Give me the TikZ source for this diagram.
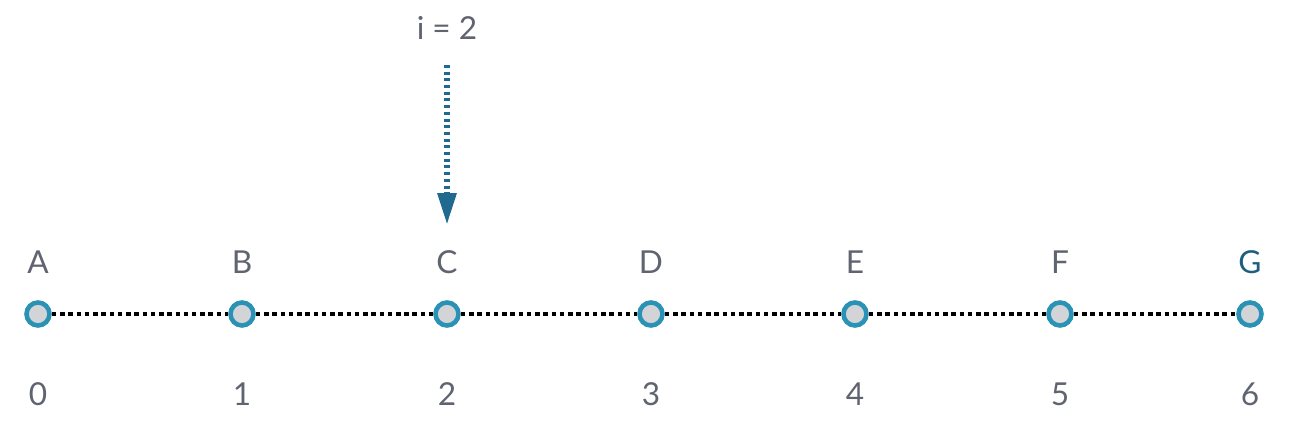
\documentclass[tikz,border=0pt]{standalone}
\usepackage{fontspec}
\setmainfont{Lato}
\usetikzlibrary{arrows.meta,positioning}
\definecolor{ringblue}{HTML}{2A93B5}
\definecolor{dotgray}{HTML}{D3D4D8}
\definecolor{ptrblue}{HTML}{1F6A8E}
\definecolor{txtgray}{HTML}{5F6470}
\definecolor{lastblue}{HTML}{1F5F7E}
\tikzstyle{elem}=[circle,draw=ringblue,fill=dotgray,line width=2.6pt,minimum size=0.46cm,inner sep=0]
\tikzstyle{lbl}=[text=txtgray,font=\fontsize{18}{21}\selectfont,inner sep=0]
\tikzstyle{link}=[black,line width=2.2pt,dash pattern=on 0.09cm off 0.075cm]
\tikzstyle{ptr}=[ptrblue,line width=0.12cm,dash pattern=on 0.06cm off 0.074cm,
                 -{Triangle[width=0.36cm,length=0.64cm,sep=0pt]}]

\begin{document}
\begin{tikzpicture}[x=0.02cm,y=-0.02cm]
\useasboundingbox (0,0) rectangle (1295,442);
\foreach \x/\l/\n/\c in {38/A/0/txtgray,242/B/1/txtgray,447/C/2/txtgray,651/D/3/txtgray,
                         855/E/4/txtgray,1060/F/5/txtgray,1250/G/6/lastblue}{
\node[elem] (e\n) at (\x,314) {};
\node[lbl,text=\c] (l\n) at (\x,262) {\l};
\node[lbl] (i\n) at (\x,394) {\n};
}
\foreach \a/\b in {0/1,1/2,2/3,3/4,4/5,5/6}
\draw[link] (e\a) -- (e\b);
\node[lbl] (iv) at (447,28) {i = 2};
\coordinate (ptrtop) at (447,65);
\coordinate (ptrend) at (447,225);
\draw[ptr] (ptrtop) -- (ptrend);
\end{tikzpicture}
\end{document}
